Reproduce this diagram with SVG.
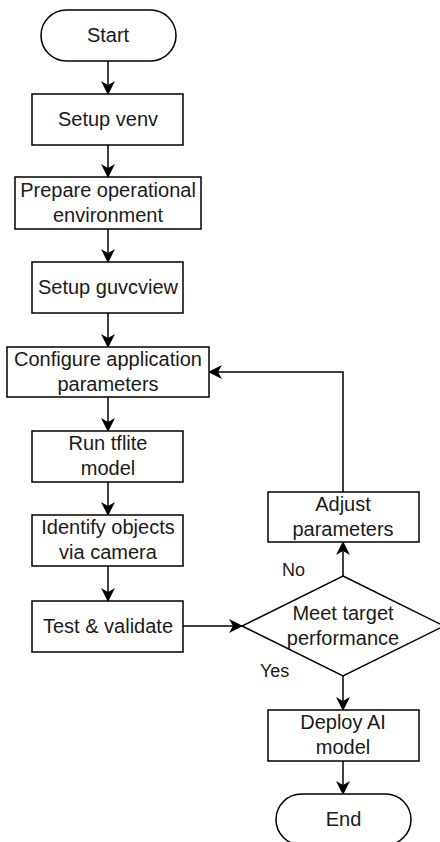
<svg xmlns="http://www.w3.org/2000/svg" width="440" height="842" viewBox="0 0 440 842">
<defs>
<style>
.box{fill:#fff;stroke:#000;stroke-width:1.5}
.t{font-family:"Liberation Sans",Arial,sans-serif;font-size:20px;fill:#1a1a1a;text-anchor:middle}
.lbl{font-family:"Liberation Sans",Arial,sans-serif;font-size:18px;fill:#1a1a1a}
.edge{fill:none;stroke:#000;stroke-width:1.5;marker-end:url(#arr)}
</style>
<marker id="arr" viewBox="0 0 14 14" refX="13" refY="7" markerWidth="14" markerHeight="14" orient="auto" markerUnits="userSpaceOnUse"><path d="M0,0 L14,7 L0,14 L4,7 Z" fill="#000"/></marker>
</defs>
<rect width="440" height="842" fill="#fff"/>
<g id="connectors">
<path class="edge" d="M108,61 V94"/>
<path class="edge" d="M108,145 V177"/>
<path class="edge" d="M108,229 V262"/>
<path class="edge" d="M108,313 V347"/>
<path class="edge" d="M108,397 V431"/>
<path class="edge" d="M108,482 V515"/>
<path class="edge" d="M108,566 V601"/>
<path class="edge" d="M183,626 H242"/>
<path class="edge" d="M343,576 V542"/>
<path class="edge" d="M343,492 V372 H209"/>
<path class="edge" d="M343,676 V710"/>
<path class="edge" d="M343,761 V794"/>
<text class="lbl" x="282" y="576">No</text>
<text class="lbl" x="260" y="677">Yes</text>
</g>
<g id="start"><rect class="box" x="41" y="10" width="135" height="51" rx="25.5"/><text class="t" x="108" y="41.5">Start</text></g>
<g id="setup-venv"><rect class="box" x="32" y="94" width="151" height="51"/><text class="t" x="108" y="125.5">Setup venv</text></g>
<g id="prepare-env"><rect class="box" x="15" y="177" width="186" height="52"/><text class="t" x="108" y="197">Prepare operational</text><text class="t" x="108" y="222">environment</text></g>
<g id="setup-guvcview"><rect class="box" x="32" y="262" width="151" height="51"/><text class="t" x="108" y="293.5">Setup guvcview</text></g>
<g id="configure"><rect class="box" x="7" y="347" width="202" height="50"/><text class="t" x="108" y="365.7">Configure application</text><text class="t" x="108" y="390.7">parameters</text></g>
<g id="run-tflite"><rect class="box" x="32" y="431" width="151" height="51"/><text class="t" x="108" y="450">Run tflite</text><text class="t" x="108" y="475">model</text></g>
<g id="identify"><rect class="box" x="32" y="515" width="151" height="51"/><text class="t" x="108" y="534">Identify objects</text><text class="t" x="108" y="559">via camera</text></g>
<g id="test"><rect class="box" x="32" y="601" width="151" height="51"/><text class="t" x="108" y="632.5">Test &amp; validate</text></g>
<g id="decision"><polygon class="box" points="343,576 444,626 343,676 242,626"/><text class="t" x="343" y="619.7">Meet target</text><text class="t" x="343" y="644.7">performance</text></g>
<g id="adjust"><rect class="box" x="268" y="492" width="151" height="50"/><text class="t" x="343" y="510.7">Adjust</text><text class="t" x="343" y="535.7">parameters</text></g>
<g id="deploy"><rect class="box" x="268" y="710" width="151" height="51"/><text class="t" x="343" y="729">Deploy AI</text><text class="t" x="343" y="754">model</text></g>
<g id="end"><rect class="box" x="276" y="794" width="135" height="51" rx="25.5"/><text class="t" x="343.5" y="825.5">End</text></g>
</svg>
